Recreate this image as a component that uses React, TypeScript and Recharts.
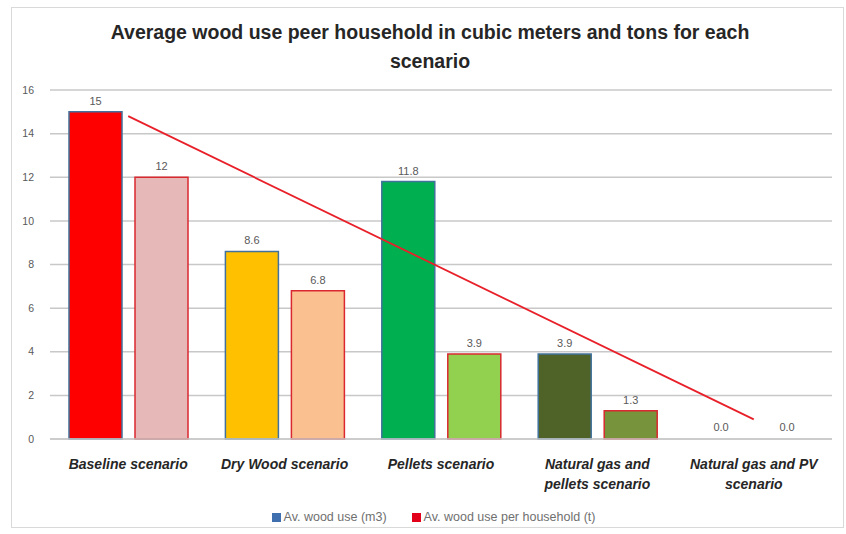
import React from "react";
import {
  Bar,
  CartesianGrid,
  Cell,
  ComposedChart,
  LabelList,
  Legend,
  Line,
  XAxis,
  YAxis,
} from "recharts";

const categories = [
  "Baseline scenario",
  "Dry Wood scenario",
  "Pellets scenario",
  "Natural gas and pellets scenario",
  "Natural gas and PV scenario",
];

// how the category names are broken on the axis
const tickLines: Record<string, string[]> = {
  "Baseline scenario": ["Baseline scenario"],
  "Dry Wood scenario": ["Dry Wood scenario"],
  "Pellets scenario": ["Pellets scenario"],
  "Natural gas and pellets scenario": ["Natural gas and", "pellets scenario"],
  "Natural gas and PV scenario": ["Natural gas and PV", "scenario"],
};

const woodM3 = [15, 8.6, 11.8, 3.9, 0];
const woodTons = [12, 6.8, 3.9, 1.3, 0];
const m3Labels = ["15", "8.6", "11.8", "3.9", "0.0"];
const tonLabels = ["12", "6.8", "3.9", "1.3", "0.0"];
// straight trend line, read at first and last category
const trend = [14.8, null, null, null, 0.9];

const yTicks = [0, 2, 4, 6, 8, 10, 12, 14, 16];

const m3Colors = ["#FF0000", "#FFC000", "#00B050", "#4F6228", "none"];
const tonColors = ["#E6B9B8", "#FAC090", "#92D050", "#77933C", "none"];

const data = categories.map((name, i) => ({
  name,
  m3: woodM3[i],
  tons: woodTons[i],
  m3Label: m3Labels[i],
  tonLabel: tonLabels[i],
  trend: trend[i],
}));

const font = "'Liberation Sans', Arial, sans-serif";

const CategoryTick = ({ x, y, payload }: any) => {
  const lines = tickLines[payload.value] || [payload.value];
  return (
    <text
      x={x}
      y={y + 22}
      textAnchor="middle"
      fill="#262626"
      fontSize={14}
      fontWeight="bold"
      fontStyle="italic"
      fontFamily={font}
    >
      {lines.map((l: string, i: number) => (
        <tspan key={i} x={x} dy={i === 0 ? 0 : 20}>
          {l}
        </tspan>
      ))}
    </text>
  );
};

const LegendContent = () => (
  <div
    style={{
      display: "flex",
      justifyContent: "center",
      alignItems: "center",
      gap: 25,
      height: 20,
      fontSize: 12.5,
      color: "#707070",
      fontFamily: font,
      paddingLeft: 18,
    }}
  >
    <span style={{ display: "flex", alignItems: "center", gap: 3 }}>
      <span style={{ width: 9, height: 9, background: "#3F6FAE" }} />
      Av. wood use (m3)
    </span>
    <span style={{ display: "flex", alignItems: "center", gap: 3 }}>
      <span style={{ width: 9, height: 9, background: "#E3001B" }} />
      Av. wood use per household (t)
    </span>
  </div>
);

export default function App() {
  return (
    <div
      style={{
        position: "absolute",
        left: 11,
        top: 7,
        width: 831,
        height: 519,
        border: "1px solid #D9D9D9",
        background: "#fff",
        fontFamily: font,
      }}
    >
      <div
        style={{
          position: "absolute",
          left: 0,
          top: 10,
          width: 836,
          textAlign: "center",
          fontSize: 19.5,
          fontWeight: "bold",
          lineHeight: "29px",
          color: "#262626",
        }}
      >
        Average wood use peer household in cubic meters and tons for each
        <br />
        scenario
      </div>
      <ComposedChart
        width={831}
        height={519}
        data={data}
        margin={{ top: 82, right: 11, left: 5, bottom: 0 }}
        barSize={53}
        barGap={13}
      >
        <CartesianGrid
          horizontal={true}
          vertical={false}
          stroke="#C8C8C8"
          strokeWidth={1.5}
        />
        <XAxis
          dataKey="name"
          height={68}
          interval={0}
          tick={<CategoryTick />}
          tickLine={false}
          axisLine={{ stroke: "#C8C8C8", strokeWidth: 1.5 }}
        />
        <YAxis
          domain={[0, 16]}
          ticks={yTicks}
          width={33}
          tickSize={6}
          tickMargin={10}
          tickLine={false}
          axisLine={false}
          tick={{ fill: "#595959", fontSize: 10.5 }}
        />
        <Legend verticalAlign="bottom" height={20} content={<LegendContent />} />
        <Bar
          dataKey="m3"
          name="Av. wood use (m3)"
          fill="#3F6FAE"
          stroke="#41719C"
          strokeWidth={1.5}
          minPointSize={1}
          isAnimationActive={false}
        >
          {data.map((d, i) => (
            <Cell
              key={d.name}
              fill={m3Colors[i]}
              stroke={m3Colors[i] === "none" ? "none" : "#41719C"}
            />
          ))}
          <LabelList
            dataKey="m3Label"
            position="top"
            offset={7}
            fill="#595959"
            fontSize={11}
          />
        </Bar>
        <Bar
          dataKey="tons"
          name="Av. wood use per household (t)"
          fill="#E3001B"
          stroke="#D9282F"
          strokeWidth={1.5}
          minPointSize={1}
          isAnimationActive={false}
        >
          {data.map((d, i) => (
            <Cell
              key={d.name}
              fill={tonColors[i]}
              stroke={tonColors[i] === "none" ? "none" : "#D9282F"}
            />
          ))}
          <LabelList
            dataKey="tonLabel"
            position="top"
            offset={7}
            fill="#595959"
            fontSize={11}
          />
        </Bar>
        <Line
          dataKey="trend"
          type="linear"
          stroke="#E8202A"
          strokeWidth={1.8}
          dot={false}
          connectNulls={true}
          legendType="none"
          isAnimationActive={false}
        />
      </ComposedChart>
    </div>
  );
}
